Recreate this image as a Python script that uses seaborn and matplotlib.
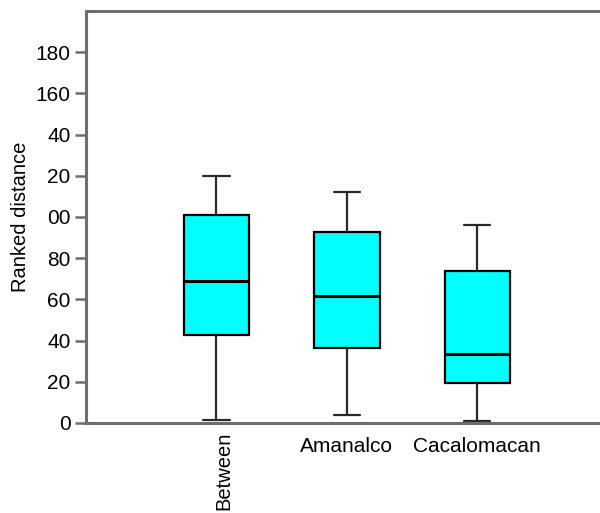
import matplotlib
matplotlib.use("Agg")
import matplotlib.pyplot as plt
import matplotlib.transforms as mtransforms
import seaborn as sns
import pandas as pd

# Five-number summaries per site: low whisker, Q1, median, Q3, high whisker
sites = ["Between", "Amanalco", "Cacalomacan"]
between = [1.5, 42.7, 69.0, 101.0, 120.0]
amanalco = [4.0, 36.5, 61.5, 92.7, 112.0]
cacalomacan = [1.0, 19.5, 33.5, 73.7, 96.0]

ytick_values = [0, 20, 40, 60, 80, 100, 120, 140, 160, 180]
ytick_labels = ["0", "20", "40", "60", "80", "00", "20", "40", "160", "180"]

df = pd.DataFrame({
    "site": [s for s, v in zip(sites, [between, amanalco, cacalomacan]) for _ in v],
    "dist": between + amanalco + cacalomacan,
})

sns.set_style("white")
plt.rcParams["font.family"] = ["Liberation Sans", "DejaVu Sans"]
plt.rcParams["text.color"] = "black"
plt.rcParams["axes.labelcolor"] = "black"
plt.rcParams["xtick.color"] = "black"
plt.rcParams["ytick.color"] = "black"

fig = plt.figure(figsize=(6.0, 5.13), dpi=100)
ax = fig.add_axes([86 / 600, 90 / 513, 514 / 600, 412 / 513])

sns.boxplot(
    data=df, x="site", y="dist", order=sites, ax=ax,
    whis=(0, 100), width=0.5, color="#00FFFF", saturation=1,
    linecolor="black", linewidth=1.6, showfliers=False,
    boxprops=dict(facecolor="#00FFFF", edgecolor="black"),
    whiskerprops=dict(color="#2a2a2a"),
    capprops=dict(color="#2a2a2a"),
    medianprops=dict(color="black", linewidth=2.2),
)

# narrower whisker caps
for cont in ax.containers:
    for cap in getattr(cont, "caps", []):
        xs = cap.get_xdata()
        c = (xs[0] + xs[1]) / 2
        h = (xs[1] - xs[0]) / 2 * 0.8
        cap.set_xdata([c - h, c + h])

ax.set_xlim(-1, 2.94)
ax.set_ylim(0, 200)
ax.set_yticks(ytick_values)
ax.set_yticklabels(ytick_labels)
ax.set_xlabel("")
ax.set_ylabel("Ranked distance", fontsize=14.5, labelpad=4)

ax.tick_params(axis="y", direction="out", length=8, width=1.8,
               color="#6e6e6e", labelcolor="black", labelsize=15, pad=3, left=True)
ax.tick_params(axis="x", length=0, labelsize=15, pad=10, labelcolor="black")

for lab in ax.get_xticklabels():
    if lab.get_text() == "Between":
        lab.set_rotation(90)
        lab.set_va("top")
        lab.set_ha("center")
        lab.set_fontsize(14.5)
        lab.set_transform(lab.get_transform() +
                          mtransforms.ScaledTranslation(7 / 100, 5 / 100, fig.dpi_scale_trans))

for side in ["left", "bottom", "top"]:
    ax.spines[side].set_visible(True)
    ax.spines[side].set_color("#6e6e6e")
    ax.spines[side].set_linewidth(2.2)
ax.spines["right"].set_visible(False)

fig.savefig("out.png", dpi=100)
